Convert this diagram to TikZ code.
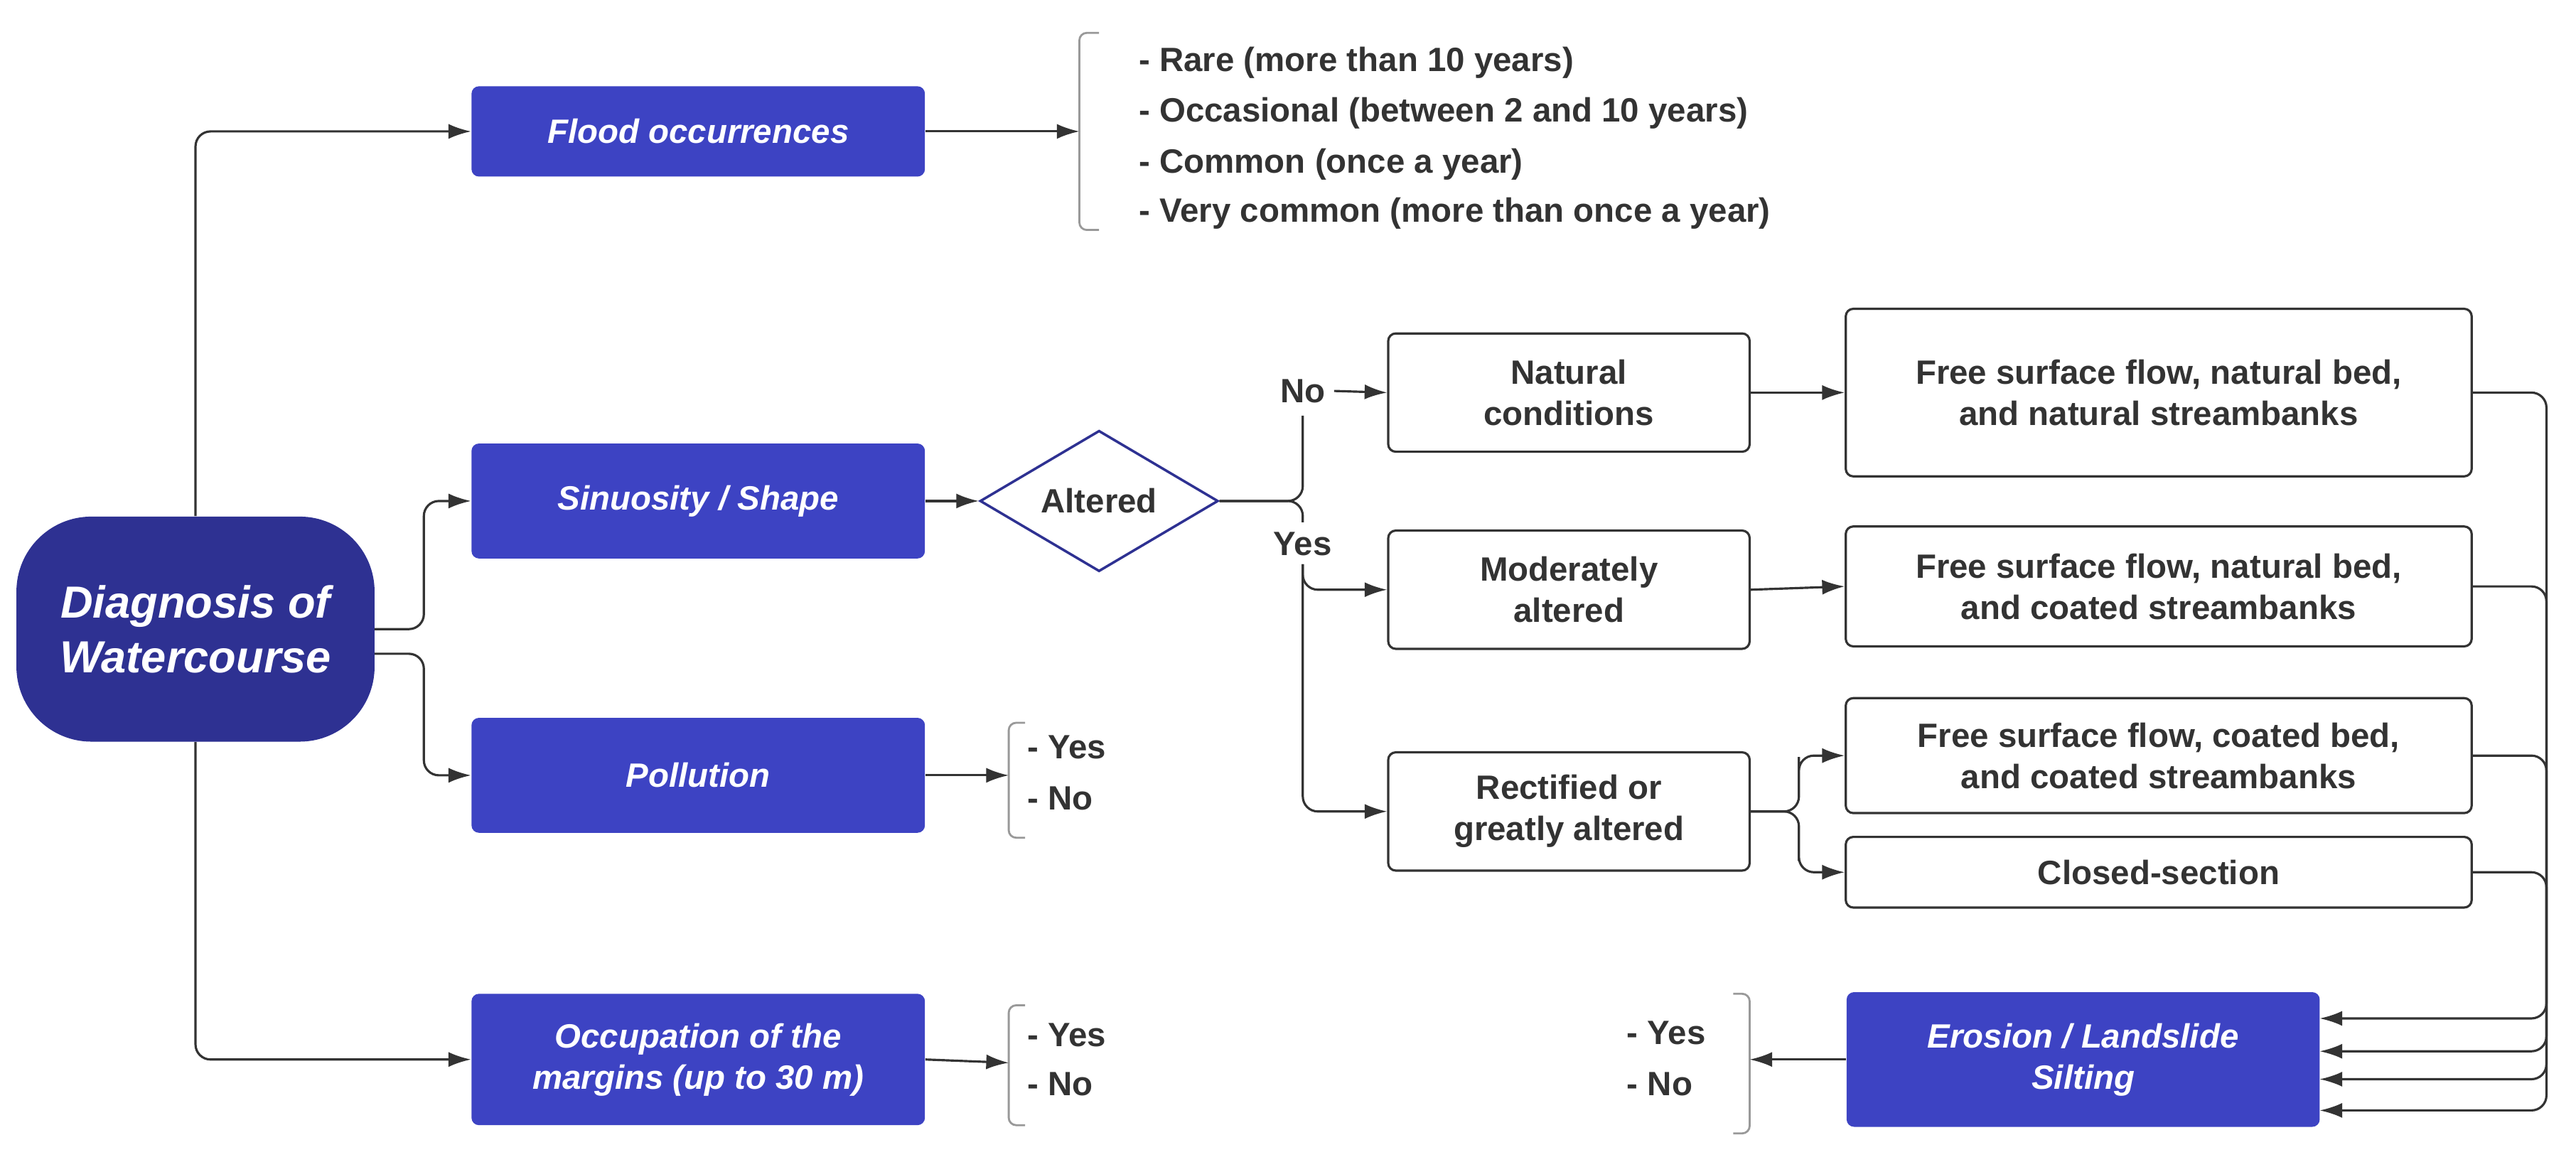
\documentclass[tikz,border=0pt]{standalone}
\usepackage{fontspec}
\setmainfont{Liberation Sans}
\usetikzlibrary{shapes.geometric,arrows.meta}
\def\pu{0.02311cm}
\definecolor{txt}{HTML}{333333}
\definecolor{blu}{HTML}{3D43C3}
\definecolor{navy}{HTML}{2E3192}
\begin{document}
\begin{tikzpicture}[x=0.02311cm,y=-0.02311cm,
  every node/.style={font=\fontsize{13.5}{16.5}\selectfont\bfseries, text=txt, align=center},
  wbox/.style={draw=txt, line width=0.9pt, rounded corners=3pt, fill=white, inner sep=0pt},
  bbox/.style={fill=blu, rounded corners=3pt, inner sep=0pt, text=white, font=\fontsize{13.5}{16.5}\selectfont\bfseries\itshape},
  ar/.style={draw=txt, line width=0.9pt, -{Latex[length=9pt,width=6pt]}, rounded corners=6pt},
  ln/.style={draw=txt, line width=0.9pt, rounded corners=6pt},
  br/.style={draw=gray!80, line width=0.8pt, rounded corners=3pt},
  lab/.style={anchor=west, inner sep=0pt}]
\useasboundingbox (0,0) rectangle (1568,707);
% main nodes
\node[fill=navy, rounded corners=30pt, minimum width=218*\pu, minimum height=137*\pu, text=white, font=\fontsize{18}{22}\selectfont\bfseries\itshape] (diag) at (119,383) {Diagnosis of\\Watercourse};
\node[bbox, minimum width=276*\pu, minimum height=55*\pu] (flood) at (425,80) {Flood occurrences};
\node[bbox, minimum width=276*\pu, minimum height=70*\pu] (sin) at (425,305) {Sinuosity / Shape};
\node[bbox, minimum width=276*\pu, minimum height=70*\pu] (pol) at (425,472) {Pollution};
\node[bbox, minimum width=276*\pu, minimum height=80*\pu] (occ) at (425,645) {Occupation of the\\margins (up to 30 m)};
\node[diamond, draw=navy, line width=1pt, fill=white, minimum width=145*\pu, minimum height=85*\pu, inner sep=0pt] (alt) at (669,305) {Altered};
\node[wbox, minimum width=220*\pu, minimum height=72*\pu] (nat) at (955,239) {Natural\\conditions};
\node[wbox, minimum width=220*\pu, minimum height=72*\pu] (mod) at (955,359) {Moderately\\altered};
\node[wbox, minimum width=220*\pu, minimum height=72*\pu] (rect) at (955,494) {Rectified or\\greatly altered};
\node[wbox, minimum width=381*\pu, minimum height=102*\pu] (f1) at (1314,239) {Free surface flow, natural bed,\\and natural streambanks};
\node[wbox, minimum width=381*\pu, minimum height=73*\pu] (f2) at (1314,357) {Free surface flow, natural bed,\\and coated streambanks};
\node[wbox, minimum width=381*\pu, minimum height=70*\pu] (f3) at (1314,460) {Free surface flow, coated bed,\\and coated streambanks};
\node[wbox, minimum width=381*\pu, minimum height=43*\pu] (cl) at (1314,531) {Closed-section};
\node[bbox, minimum width=288*\pu, minimum height=82*\pu] (ero) at (1268,645) {Erosion / Landslide\\Silting};
% lists
\node[lab] (l1) at (693,38) {- Rare (more than 10 years)};
\node[lab] (l2) at (693,69) {- Occasional (between 2 and 10 years)};
\node[lab] (l3) at (693,100) {- Common (once a year)};
\node[lab] (l4) at (693,130) {- Very common (more than once a year)};
\node[lab] (py) at (625,455) {- Yes};
\node[lab] (pn) at (625,486) {- No};
\node[lab] (oy) at (625,630) {- Yes};
\node[lab] (on) at (625,660) {- No};
\node[lab] (ey) at (990,629) {- Yes};
\node[lab] (en) at (990,660) {- No};
\node (no) at (793,238) {No};
\node (yes) at (793,331) {Yes};
% brackets
\draw[br] (669,20) -- (657,20) -- (657,140) -- (669,140);
\coordinate (fb) at (657,80);
\draw[br] (624,440) -- (614,440) -- (614,510) -- (624,510);
\coordinate (pb) at (614,472);
\draw[br] (624,612) -- (614,612) -- (614,685) -- (624,685);
\coordinate (ob) at (614,647);
\draw[br] (1055,605) -- (1065,605) -- (1065,690) -- (1055,690);
\coordinate (eb) at (1065,645);
% connectors
\draw[ar] (diag.north) |- (flood.west);
\draw[ar] (diag.south) |- (occ.west);
\draw[ar] (228,383) -| (258,340) |- (sin.west);
\draw[ar] (228,398) -| (258,430) |- (pol.west);
\draw[ar] (flood.east) -- (fb);
\draw[ar] (pol.east) -- (pb);
\draw[ar] (occ.east) -- (ob);
\draw[ar] (ero.west) -- (eb);
\draw[ar] (sin.east) -- (alt.west);
\draw[ln] (alt.east) -| (793,253);
\draw[ln] (alt.east) -| (793,318);
\draw[ar] (no.east) -- (nat.west);
\draw[ar] (yes.south) |- (mod.west);
\draw[ar] (yes.south) |- (rect.west);
\draw[ar] (nat.east) -- (f1.west);
\draw[ar] (mod.east) -- (f2.west);
\draw[ar] (rect.east) -| (1095,470) |- (f3.west);
\draw[ar] (rect.east) -| (1095,515) |- (cl.west);
\draw[ar] (f1.east) -| (1550,600) |- (1412,676);
\draw[ar] (f2.east) -| (1550,600) |- (1412,657);
\draw[ar] (f3.east) -| (1550,600) |- (1412,640);
\draw[ar] (cl.east) -| (1550,600) |- (1412,620);
\end{tikzpicture}
\end{document}
